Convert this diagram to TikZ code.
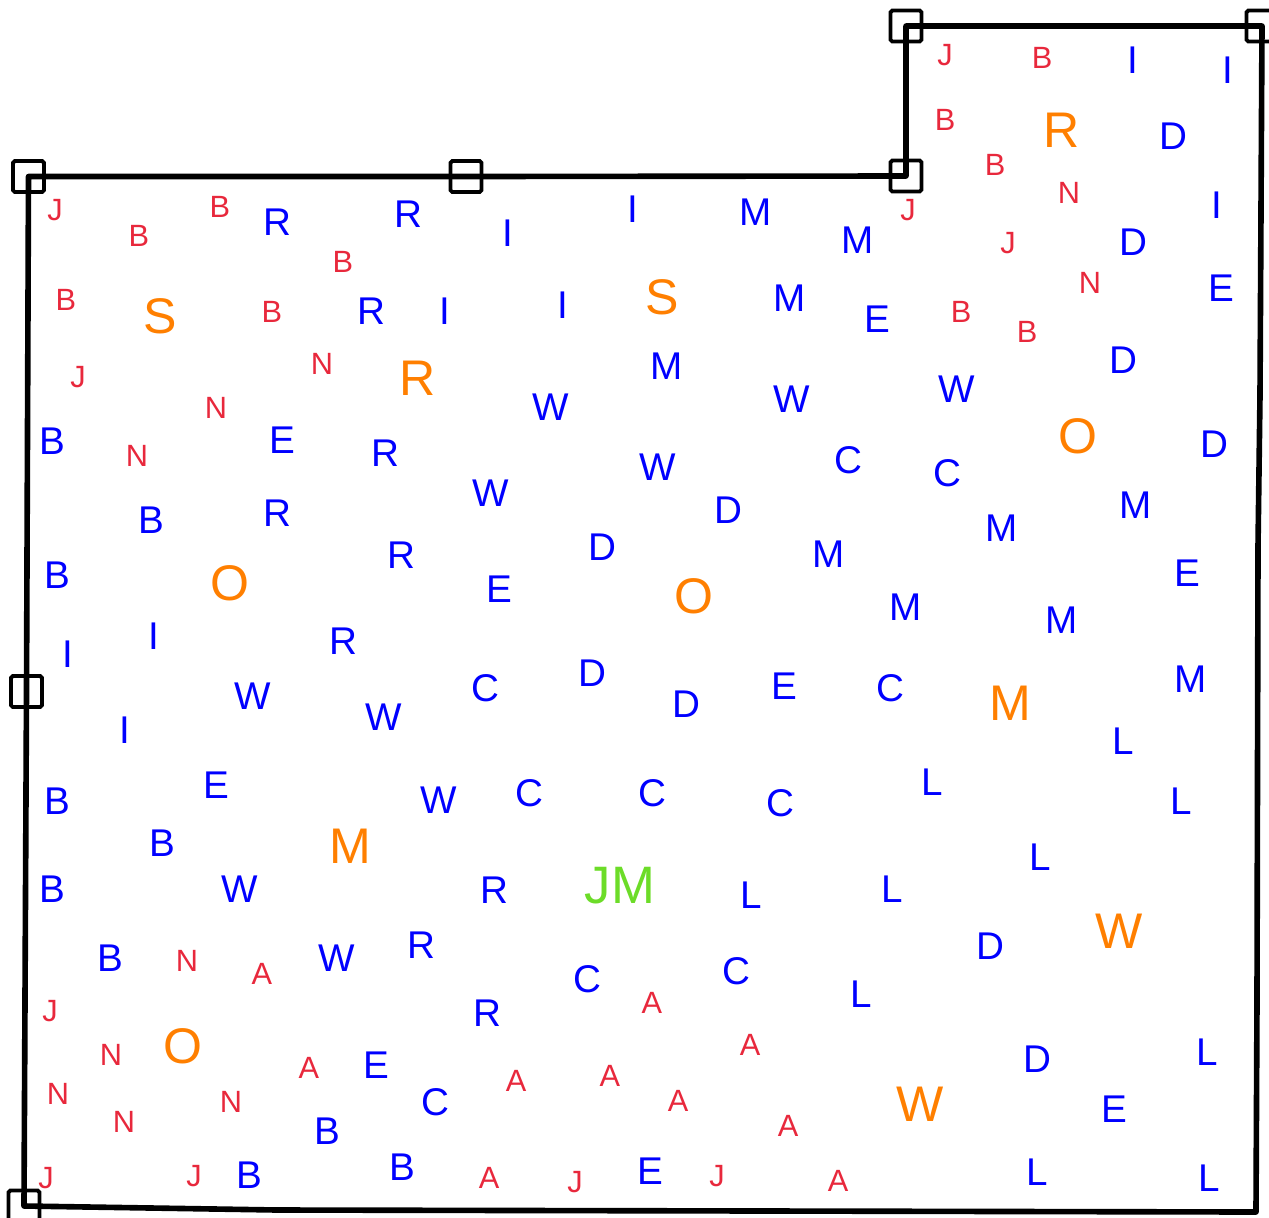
\documentclass[tikz,border=0pt]{standalone}
\usepackage{fontspec}
\setmainfont{Liberation Sans}
\definecolor{letterred}{HTML}{E8283C}
\definecolor{letterblue}{HTML}{0000FF}
\definecolor{letterorange}{HTML}{FF7F00}
\definecolor{lettergreen}{HTML}{6CDC28}
\tikzset{
  wall/.style={line width=3.2pt, line join=round},
  corner/.style={draw, line width=2.2pt, rounded corners=1pt, minimum size=0.62cm, inner sep=0pt},
  rd/.style={text=letterred, font=\fontsize{17.5}{21}\selectfont},
  blu/.style={text=letterblue, font=\fontsize{22}{26}\selectfont},
  big/.style={text=letterorange, font=\fontsize{28.5}{34}\selectfont},
  jm/.style={text=lettergreen, font=\fontsize{30}{36}\selectfont}
}
\begin{document}
\begin{tikzpicture}[x={(0.02cm,0)}, y={(0,-0.02cm)}]
\useasboundingbox (0,0) rectangle (1269,1218);

% corner markers
\node[corner] (c1) at (28.5,176.5) {};
\node[corner] (c2) at (466,176.5) {};
\node[corner] (c3) at (906,176) {};
\node[corner] (c4) at (906,26) {};
\node[corner] (c5) at (1262,26) {};
\node[corner] (c6) at (26.5,691.5) {};
\node[corner] (c7) at (24,1206) {};

% outline
\draw[wall] (c1.center) -- (c2.center) -- (c3.center) -- (c4.center) -- (c5.center)
  -- (1260,395) -- (1258,547) -- (1257,1000) -- (1256,1212) -- (277,1210)
  -- (c7.center) -- (c6.center) -- cycle;

% red letters
\node[rd] (red1) at (945,55) {J};
\node[rd] (red2) at (1042,58) {B};
\node[rd] (red3) at (945,120) {B};
\node[rd] (red4) at (995,165) {B};
\node[rd] (red5) at (1069,193) {N};
\node[rd] (red6) at (908,210) {J};
\node[rd] (red7) at (1008,243) {J};
\node[rd] (red8) at (1090,283) {N};
\node[rd] (red9) at (961,312) {B};
\node[rd] (red10) at (1027,332) {B};
\node[rd] (red11) at (55,210) {J};
\node[rd] (red12) at (139,236) {B};
\node[rd] (red13) at (220,207) {B};
\node[rd] (red14) at (343,262) {B};
\node[rd] (red15) at (66,300) {B};
\node[rd] (red16) at (272,312) {B};
\node[rd] (red17) at (78,377) {J};
\node[rd] (red18) at (322,364) {N};
\node[rd] (red19) at (216,408) {N};
\node[rd] (red20) at (137,456) {N};

\node[rd] (red21) at (187,961) {N};
\node[rd] (red22) at (262,974) {A};
\node[rd] (red23) at (652,1003) {A};
\node[rd] (red24) at (50,1011) {J};
\node[rd] (red25) at (111,1055) {N};
\node[rd] (red26) at (309,1068) {A};
\node[rd] (red27) at (750,1045) {A};
\node[rd] (red28) at (58,1094) {N};
\node[rd] (red29) at (124,1122) {N};
\node[rd] (red30) at (231,1102) {N};
\node[rd] (red31) at (516,1081) {A};
\node[rd] (red32) at (610,1076) {A};
\node[rd] (red33) at (678,1101) {A};
\node[rd] (red34) at (788,1126) {A};
\node[rd] (red35) at (46,1178) {J};
\node[rd] (red36) at (194,1176) {J};
\node[rd] (red37) at (489,1178) {A};
\node[rd] (red38) at (575,1182) {J};
\node[rd] (red39) at (717,1176) {J};
\node[rd] (red40) at (838,1181) {A};

% blue letters, right part
\node[blu] (blue1) at (1133,60) {I};
\node[blu] (blue2) at (1228,70) {I};
\node[blu] (blue3) at (1173,136) {D};
\node[blu] (blue4) at (1217,205) {I};
\node[blu] (blue5) at (1133,242) {D};
\node[blu] (blue6) at (1221,288) {E};
\node[blu] (blue7) at (1123,360) {D};
\node[blu] (blue8) at (957,389) {W};
\node[blu] (blue9) at (1214,444) {D};
\node[blu] (blue10) at (1136,505) {M};
\node[blu] (blue11) at (947,473) {C};
\node[blu] (blue12) at (1002,528) {M};
\node[blu] (blue13) at (1187,573) {E};
\node[blu] (blue14) at (1062,620) {M};
\node[blu] (blue15) at (1191,679) {M};
\node[blu] (blue16) at (1123,741) {L};
\node[blu] (blue17) at (1181,801) {L};
\node[blu] (blue18) at (932,782) {L};
\node[blu] (blue19) at (1040,857) {L};
\node[blu] (blue20) at (990,946) {D};
\node[blu] (blue21) at (861,994) {L};
\node[blu] (blue22) at (1037,1059) {D};
\node[blu] (blue23) at (1207,1052) {L};
\node[blu] (blue24) at (1114,1109) {E};
\node[blu] (blue25) at (1037,1172) {L};
\node[blu] (blue26) at (1209,1178) {L};

% blue letters, upper middle
\node[blu] (blue27) at (277,222) {R};
\node[blu] (blue28) at (408,214) {R};
\node[blu] (blue29) at (508,233) {I};
\node[blu] (blue30) at (633,209) {I};
\node[blu] (blue31) at (756,212) {M};
\node[blu] (blue32) at (858,240) {M};
\node[blu] (blue33) at (371,311) {R};
\node[blu] (blue34) at (445,311) {I};
\node[blu] (blue35) at (563,305) {I};
\node[blu] (blue36) at (790,298) {M};
\node[blu] (blue37) at (877,319) {E};
\node[blu] (blue38) at (667,366) {M};
\node[blu] (blue39) at (551,407) {W};
\node[blu] (blue40) at (792,399) {W};
\node[blu] (blue41) at (52,441) {B};
\node[blu] (blue42) at (282,440) {E};
\node[blu] (blue43) at (385,453) {R};
\node[blu] (blue44) at (658,467) {W};
\node[blu] (blue45) at (848,460) {C};
\node[blu] (blue46) at (491,493) {W};
\node[blu] (blue47) at (728,510) {D};
\node[blu] (blue48) at (151,520) {B};
\node[blu] (blue49) at (277,513) {R};
\node[blu] (blue50) at (401,555) {R};
\node[blu] (blue51) at (602,547) {D};
\node[blu] (blue52) at (829,554) {M};
\node[blu] (blue53) at (57,575) {B};
\node[blu] (blue54) at (499,589) {E};
\node[blu] (blue55) at (906,607) {M};

% blue letters, lower middle
\node[blu] (blue56) at (154,636) {I};
\node[blu] (blue57) at (68,654) {I};
\node[blu] (blue58) at (343,641) {R};
\node[blu] (blue59) at (253,696) {W};
\node[blu] (blue60) at (384,717) {W};
\node[blu] (blue61) at (485,688) {C};
\node[blu] (blue62) at (592,673) {D};
\node[blu] (blue63) at (686,704) {D};
\node[blu] (blue64) at (784,686) {E};
\node[blu] (blue65) at (890,688) {C};
\node[blu] (blue66) at (125,730) {I};
\node[blu] (blue67) at (216,785) {E};
\node[blu] (blue68) at (57,801) {B};
\node[blu] (blue69) at (439,800) {W};
\node[blu] (blue70) at (529,793) {C};
\node[blu] (blue71) at (652,793) {C};
\node[blu] (blue72) at (780,803) {C};
\node[blu] (blue73) at (162,843) {B};
\node[blu] (blue74) at (52,889) {B};
\node[blu] (blue75) at (240,889) {W};
\node[blu] (blue76) at (494,890) {R};
\node[blu] (blue77) at (751,895) {L};
\node[blu] (blue78) at (892,889) {L};
\node[blu] (blue79) at (110,958) {B};
\node[blu] (blue80) at (337,958) {W};
\node[blu] (blue81) at (421,945) {R};
\node[blu] (blue82) at (587,979) {C};
\node[blu] (blue83) at (736,971) {C};
\node[blu] (blue84) at (487,1013) {R};
\node[blu] (blue85) at (376,1065) {E};
\node[blu] (blue86) at (435,1102) {C};
\node[blu] (blue87) at (327,1131) {B};
\node[blu] (blue88) at (249,1175) {B};
\node[blu] (blue89) at (402,1167) {B};
\node[blu] (blue90) at (650,1171) {E};

% large letters
\node[big] (big1) at (1062,130) {R};
\node[big] (big2) at (1078,436) {O};
\node[big] (big3) at (1010,703) {M};
\node[big] (big4) at (1119,931) {W};
\node[big] (big5) at (920,1104) {W};
\node[big] (big6) at (160,316) {S};
\node[big] (big7) at (662,297) {S};
\node[big] (big8) at (418,378) {R};
\node[big] (big9) at (230,583) {O};
\node[big] (big10) at (694,596) {O};
\node[big] (big11) at (350,846) {M};
\node[big] (big12) at (183,1046) {O};
\node[jm] (jm1) at (620,886) {JM};
\end{tikzpicture}
\end{document}
